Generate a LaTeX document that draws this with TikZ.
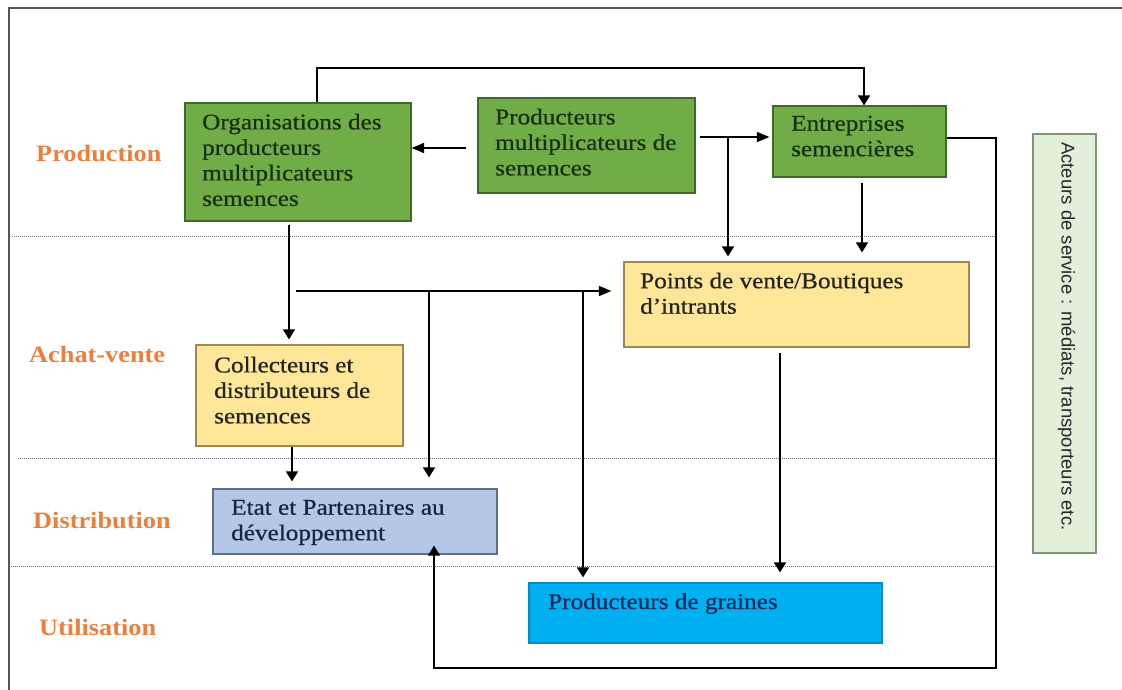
\documentclass[tikz,border=0pt]{standalone}
\usepackage{fontspec}
\setmainfont{Liberation Serif}[FakeStretch=1.12]
\newfontfamily\boxfont{Liberation Serif}[FakeStretch=1.12, FakeBold=0.6]
\newfontfamily\acfont{Liberation Sans}
\usetikzlibrary{arrows.meta}
\definecolor{lblorange}{RGB}{232,128,64}
\definecolor{gfill}{RGB}{112,173,71}
\definecolor{gdraw}{RGB}{62,105,40}
\definecolor{gtext}{RGB}{22,48,14}
\definecolor{yfill}{RGB}{255,230,153}
\definecolor{ydraw}{RGB}{160,135,80}
\definecolor{ytext}{RGB}{35,35,25}
\definecolor{bfill}{RGB}{180,199,231}
\definecolor{bdraw}{RGB}{95,110,140}
\definecolor{btext}{RGB}{25,35,65}
\definecolor{cfill}{RGB}{0,176,240}
\definecolor{cdraw}{RGB}{0,140,200}
\definecolor{ctext}{RGB}{12,40,90}
\definecolor{afill}{RGB}{226,239,218}
\definecolor{adraw}{RGB}{130,150,115}
\definecolor{framec}{RGB}{85,85,85}
\definecolor{lanec}{RGB}{110,110,110}
\begin{document}
\begin{tikzpicture}[x=1pt,y=-1pt,
  boxn/.style={draw, line width=1.2pt, inner sep=0pt},
  txt/.style={inner sep=0pt, anchor=north west, align=left,
    font=\boxfont\fontsize{22.5}{25.5}\selectfont},
  lbl/.style={inner sep=0pt, anchor=base west, text=lblorange,
    font=\fontsize{23.5}{26}\selectfont\bfseries},
  arrv/.style={line width=1.5pt, -{Triangle[length=10pt,width=12pt]}},
  arrh/.style={line width=1.5pt, -{Triangle[length=12.5pt,width=10pt]}},
  lane/.style={lanec, line width=1pt, dash pattern=on 1pt off 1pt}]
\useasboundingbox (0,0) rectangle (1122,689);
\fill[white] (0,0) rectangle (1122,689);
% frame
\draw[framec, line width=1.5pt] (9,700) -- (9,8) -- (1130,8);
% lanes
\draw[lane] (12,236) -- (996,236);
\draw[lane] (18,458) -- (996,458);
\draw[lane] (9,566) -- (996,566);
% lane labels
\node[lbl] (lprod) at (36,161) {Production};
\node[lbl] (lach) at (29,362) {Achat-vente};
\node[lbl] (ldist) at (33,528) {Distribution};
\node[lbl] (lutil) at (39,635) {Utilisation};
% boxes
\node[boxn, fill=gfill, draw=gdraw, minimum width=226pt, minimum height=118pt] (org) at (298,162) {};
\node[boxn, fill=gfill, draw=gdraw, minimum width=217pt, minimum height=95pt] (pm) at (586.5,145.5) {};
\node[boxn, fill=gfill, draw=gdraw, minimum width=173pt, minimum height=71pt] (ent) at (859.5,141.5) {};
\node[boxn, fill=yfill, draw=ydraw, minimum width=345pt, minimum height=85pt] (pts) at (796.5,304.5) {};
\node[boxn, fill=yfill, draw=ydraw, minimum width=207pt, minimum height=101pt] (coll) at (299.5,395.5) {};
\node[boxn, fill=bfill, draw=bdraw, minimum width=284pt, minimum height=65pt] (etat) at (355,521.5) {};
\node[boxn, fill=cfill, draw=cdraw, minimum width=353pt, minimum height=60pt] (gra) at (705.5,613) {};
\node[boxn, fill=afill, draw=adraw, minimum width=63pt, minimum height=419pt] (act) at (1064.5,343.5) {};
% texts
\node[txt, text=gtext] (torg) at (202,113.6) {Organisations des\\producteurs\\multiplicateurs\\semences};
\node[txt, text=gtext] (tpm) at (495,108.6) {Producteurs\\multiplicateurs de\\semences};
\node[txt, text=gtext] (tent) at (791,115.6) {Entreprises\\semencières};
\node[txt, text=ytext] (tpts) at (640,272.4) {Points de vente/Boutiques\\d’intrants};
\node[txt, text=ytext] (tcoll) at (214,356.6) {Collecteurs et\\distributeurs de\\semences};
\node[txt, text=btext] (tetat) at (231,499.6) {Etat et Partenaires au\\développement};
\node[txt, text=ctext, anchor=base west] (tgra) at (548,609) {Producteurs de graines};
\node[inner sep=0pt, rotate=-90, anchor=mid west, text=black!85,
  font=\acfont\fontsize{18.5}{20}\selectfont] (tact) at (1064,142)
  {Acteurs de service : médiats, transporteurs etc.};
% connectors
\coordinate (t1) at (317,68);
\coordinate (t2) at (864,68);
\draw[arrv] (org.north -| t1) -- (t1) -- (t2) -- (ent.north -| t2);
\coordinate (a2) at (466,148);
\draw[arrh] (a2) -- (org.east |- a2);
\coordinate (a3) at (699,137);
\draw[arrh, shorten <=4pt, shorten >=3pt] (pm.east |- a3) -- (ent.west |- a3);
\coordinate (b3) at (728,137);
\draw[arrv, shorten >=5pt] (b3) -- (pts.north -| b3);
\coordinate (c4) at (862,200);
\draw[arrv, shorten <=5pt, shorten >=9pt] (ent.south -| c4) -- (pts.north -| c4);
\coordinate (r1) at (996,138);
\coordinate (r2) at (996,668);
\coordinate (r3) at (434,668);
\draw[arrv, shorten >=-9pt] (ent.east |- r1) -- (r1) -- (r2) -- (r3) -- (etat.south -| r3);
\coordinate (c6) at (289,280);
\draw[arrv, shorten <=3pt, shorten >=5pt] (org.south -| c6) -- (coll.north -| c6);
\coordinate (h1) at (296,291);
\draw[arrh, shorten >=12pt] (h1) -- (pts.west |- h1);
\coordinate (h2) at (429,291);
\draw[arrv, shorten >=11pt] (h2) -- (etat.north -| h2);
\coordinate (h3) at (583,291);
\draw[arrv, shorten >=5pt] (h3) -- (gra.north -| h3);
\coordinate (c8) at (292,460);
\draw[arrv, shorten >=7pt] (coll.south -| c8) -- (etat.north -| c8);
\coordinate (c9) at (780,460);
\draw[arrv, shorten <=5pt, shorten >=10pt] (pts.south -| c9) -- (gra.north -| c9);
\end{tikzpicture}
\end{document}
